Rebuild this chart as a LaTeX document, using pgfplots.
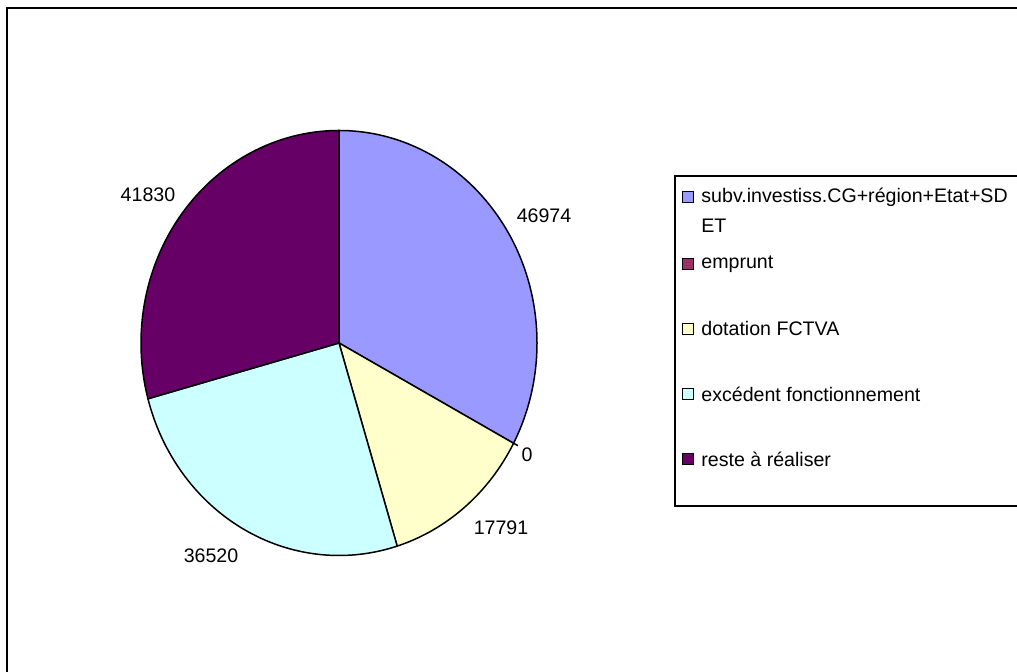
\documentclass[border=0pt]{standalone}
\usepackage{pgfplots}
\pgfplotsset{compat=1.18}
\usepackage{pgfplotstable}
\usepackage{fontspec}
\setmainfont{Liberation Sans}
\definecolor{slA}{HTML}{9999FF}
\definecolor{slB}{HTML}{993366}
\definecolor{slC}{HTML}{FFFFCC}
\definecolor{slD}{HTML}{CCFFFF}
\definecolor{slE}{HTML}{660066}
\pgfplotstableread{
value
46974
0
17791
36520
41830
}\piedata
\tikzset{lbl/.style={font=\fontsize{9.8}{11.8}\selectfont, inner sep=0pt}}
\begin{document}
\begin{tikzpicture}
\useasboundingbox (0,0) rectangle (508.5pt,336pt);
\clip (0,0) rectangle (508.5pt,336pt);
\begin{axis}[x=0.5pt,y=0.5pt,xmin=0,xmax=1017,ymin=0,ymax=672,hide axis,clip=false,
  at={(0,0)},anchor=south west]
\pgfplotsextra{
  \pgfplotstablegetrowsof{\piedata}
  \pgfmathtruncatemacro\nrows{\pgfplotsretval-1}
  \gdef\total{0}
  \foreach \i in {0,...,\nrows}{
    \pgfplotstablegetelem{\i}{value}\of\piedata
    \xdef\total{\fpeval{\total+\pgfplotsretval}}
  }
  \gdef\startang{90}
  \foreach \i/\c in {0/slA,1/slB,2/slC,3/slD,4/slE}{
    \pgfplotstablegetelem{\i}{value}\of\piedata
    \xdef\sweep{\fpeval{round(360*\pgfplotsretval/\total,4)}}
    \xdef\endang{\fpeval{round(\startang-\sweep,4)}}
    \ifdim\sweep pt>0pt
      \filldraw[fill=\c, draw=black, line width=0.75pt, line join=round]
        (axis cs:339,329) -- ++(\startang:99pt and 106.25pt)
        arc[start angle=\startang, end angle=\endang, x radius=99pt, y radius=106.25pt] -- cycle;
    \else
      \draw[line width=0.75pt] (axis cs:339,329) ++(\startang:99pt and 106.25pt) -- ++(\startang:2.5pt);
    \fi
    \xdef\startang{\endang}
  }
  % frame and legend box
  \draw[line width=1.2pt] (axis cs:7,-20) -- (axis cs:7,664) -- (axis cs:1040,664);
  \draw[line width=0.7pt] (axis cs:675,166) rectangle (axis cs:1040,496);
}
\node[lbl] at (axis cs:544,456.5) {46974};
\node[lbl] at (axis cs:527,217) {0};
\node[lbl] at (axis cs:501,144) {17791};
\node[lbl] at (axis cs:211,116) {36520};
\node[lbl] at (axis cs:148,477) {41830};
% legend
\draw[fill=slA, line width=0.5pt] (axis cs:682,469.5) rectangle (axis cs:693,480.5);
\node[lbl,anchor=west] at (axis cs:701,475) {subv.investiss.CG+région+Etat+SD};
\node[lbl,anchor=west] at (axis cs:701,446) {ET};
\draw[fill=slB, line width=0.5pt] (axis cs:682,402.5) rectangle (axis cs:693,413.5);
\node[lbl,anchor=west] at (axis cs:701,408) {emprunt};
\draw[fill=slC, line width=0.5pt] (axis cs:682,337.5) rectangle (axis cs:693,348.5);
\node[lbl,anchor=west] at (axis cs:701,343) {dotation FCTVA};
\draw[fill=slD, line width=0.5pt] (axis cs:682,272.5) rectangle (axis cs:693,283.5);
\node[lbl,anchor=west] at (axis cs:701,278) {excédent fonctionnement};
\draw[fill=slE, line width=0.5pt] (axis cs:682,207.5) rectangle (axis cs:693,218.5);
\node[lbl,anchor=west] at (axis cs:701,213) {reste à réaliser};
\end{axis}
\end{tikzpicture}
\end{document}
